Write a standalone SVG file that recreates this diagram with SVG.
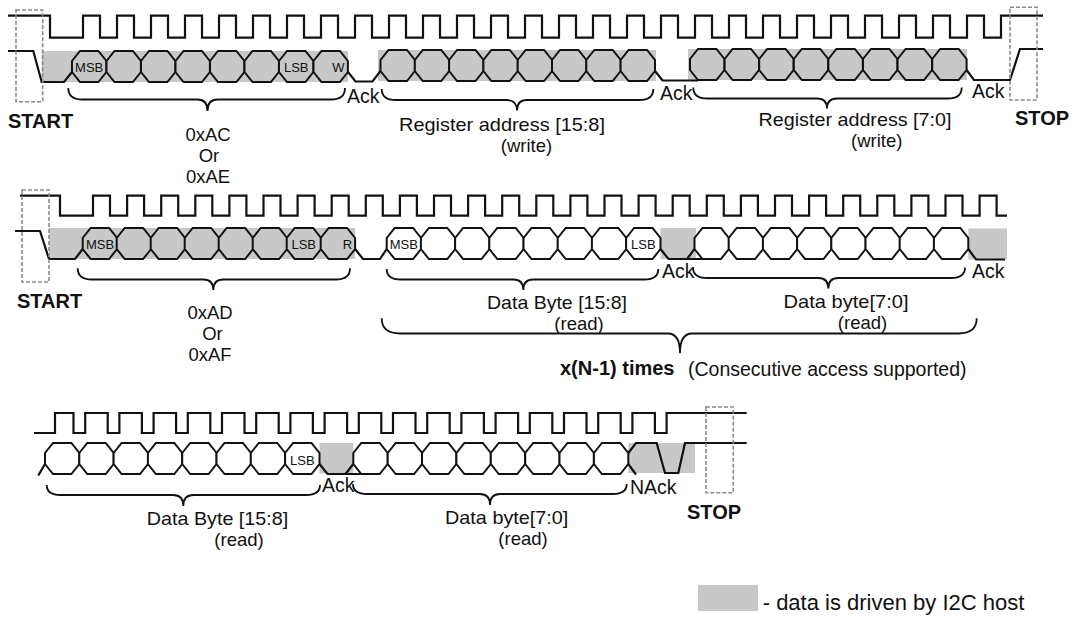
<svg xmlns="http://www.w3.org/2000/svg" xmlns:xlink="http://www.w3.org/1999/xlink" width="1076" height="622" viewBox="0 0 1076 622">
<style>
.w{fill:none;stroke:#111;stroke-width:2.2;stroke-linejoin:miter}
.og{fill:#c8c8c8;stroke:#111;stroke-width:2}
.ow{fill:#fff;stroke:#111;stroke-width:2}
.gr{fill:#c8c8c8}
.br{fill:none;stroke:#111;stroke-width:1.8}
.db{fill:none;stroke:#8a8a8a;stroke-width:1.6;stroke-dasharray:4 2}
.t{font-family:"Liberation Sans",Arial,sans-serif;font-size:19.5px;fill:#111}
.st{font-size:18.5px}
.b{font-weight:bold;font-size:20px}
.s{font-size:13px}
.m{text-anchor:middle}
</style>
<defs>
<path id="oc" d="M0,10 L8,0 H26.4 L34.4,10 V21 L26.4,31 H8 L0,21 Z"/>
</defs>
<rect width="1076" height="622" fill="#fff"/>

<g id="row1">
  <g id="r1-host">
    <rect class="gr" x="41.7" y="51" width="306.3" height="31"/>
    <rect class="gr" x="378" y="50" width="278" height="31"/>
    <rect class="gr" x="688" y="49" width="279" height="31"/>
  </g>
  <g id="r1-byte1">
    <use href="#oc" class="og" x="72" y="51"/><use href="#oc" class="og" x="106.5" y="51"/><use href="#oc" class="og" x="141" y="51"/><use href="#oc" class="og" x="175.5" y="51"/>
    <use href="#oc" class="og" x="210" y="51"/><use href="#oc" class="og" x="244.5" y="51"/><use href="#oc" class="og" x="279" y="51"/><use href="#oc" class="og" x="313.5" y="51"/>
    <text class="t s m" x="89.2" y="72">MSB</text><text class="t s m" x="296.2" y="72">LSB</text><text class="t s m" x="338.5" y="72">W</text>
  </g>
  <g id="r1-byte2">
    <use href="#oc" class="og" x="380.5" y="50"/><use href="#oc" class="og" x="414.8" y="50"/><use href="#oc" class="og" x="449.1" y="50"/><use href="#oc" class="og" x="483.4" y="50"/>
    <use href="#oc" class="og" x="517.7" y="50"/><use href="#oc" class="og" x="552" y="50"/><use href="#oc" class="og" x="586.3" y="50"/><use href="#oc" class="og" x="620.6" y="50"/>
  </g>
  <g id="r1-byte3">
    <use href="#oc" class="og" x="690" y="49"/><use href="#oc" class="og" x="724.6" y="49"/><use href="#oc" class="og" x="759.2" y="49"/><use href="#oc" class="og" x="793.8" y="49"/>
    <use href="#oc" class="og" x="828.4" y="49"/><use href="#oc" class="og" x="863" y="49"/><use href="#oc" class="og" x="897.6" y="49"/><use href="#oc" class="og" x="932.2" y="49"/>
  </g>
  <g id="r1-lines">
    <path class="w" d="M8,15.7 H50 V37.7 H83 v-22h17v22h17 v-22h17v22h17 v-22h17v22h17 v-22h17v22h17 v-22h17v22h17 v-22h17v22h17 v-22h17v22h17 v-22h17v22h17 v-22h17v22h17 v-22h17v22h17 v-22h17v22h17 v-22h17v22h17 v-22h17v22h17 v-22h17v22h17 v-22h17v22h17 v-22h17v22h17 v-22h17v22h17 v-22h17v22h17 v-22h17v22h17 v-22h17v22h17 v-22h17v22h17 v-22h17v22h17 v-22h17v22h17 v-22h17v22h17 v-22h17v22h17 v-22h17v22h17 v-22h17v22 H1001 V15.7 H1043"/>
    <path class="w" d="M8,51 H33.3 L41.7,82 H64 L72,72"/>
    <path class="w" d="M348,72 L355.5,81.5 H372.5 L380.5,71"/>
    <path class="w" d="M655,71 L662.5,80.5 H698"/>
    <path class="w" d="M966.6,70 L974,80 H1010 L1020,49 H1043"/>
  </g>
  <g id="r1-braces">
    <path class="br" d="M68.3,88 Q68.3,99.5 82.3,99.5 H197.5 Q207.5,99.5 207.5,111 Q207.5,99.5 217.5,99.5 H331 Q345,99.5 345,88"/>
    <path class="br" d="M381.7,89 Q381.7,100 395.7,100 H507 Q517,100 517,110.5 Q517,100 527,100 H639.3 Q653.3,100 653.3,89"/>
    <path class="br" d="M693.3,87.5 Q693.3,98.5 707.3,98.5 H817 Q827,98.5 827,108.5 Q827,98.5 837,98.5 H947.7 Q961.7,98.5 961.7,87.5"/>
  </g>
  <g id="r1-text">
    <text class="t b" x="8" y="128">START</text>
    <text class="t b" x="1015" y="125">STOP</text>
    <text class="t" x="347" y="103">Ack</text>
    <text class="t" x="660" y="100">Ack</text>
    <text class="t" x="972" y="98">Ack</text>
    <text class="t st m" x="208" y="140.5">0xAC</text>
    <text class="t st m" x="209" y="161.5">Or</text>
    <text class="t st m" x="208" y="182.5">0xAE</text>
    <text class="t st m" x="502" y="131" textLength="206" lengthAdjust="spacingAndGlyphs">Register address [15:8]</text>
    <text class="t st m" x="526.5" y="152">(write)</text>
    <text class="t st m" x="855" y="125.5" textLength="193" lengthAdjust="spacingAndGlyphs">Register address [7:0]</text>
    <text class="t st m" x="876.7" y="146.5">(write)</text>
  </g>
  <rect class="db" x="16" y="10" width="26.7" height="91.7"/>
  <rect class="db" x="1010" y="7.3" width="27" height="92.7"/>
</g>

<g id="row2">
  <g id="r2-host">
    <rect class="gr" x="49" y="228" width="306" height="31"/>
    <rect class="gr" x="660.5" y="228" width="35.5" height="31"/>
    <rect class="gr" x="968.3" y="228.5" width="38.7" height="31"/>
  </g>
  <g id="r2-byte1">
    <use href="#oc" class="og" x="82.7" y="228"/><use href="#oc" class="og" x="116.7" y="228"/><use href="#oc" class="og" x="150.7" y="228"/><use href="#oc" class="og" x="184.7" y="228"/>
    <use href="#oc" class="og" x="218.7" y="228"/><use href="#oc" class="og" x="252.7" y="228"/><use href="#oc" class="og" x="286.7" y="228"/><use href="#oc" class="og" x="320.7" y="228"/>
    <text class="t s m" x="100" y="248.5">MSB</text><text class="t s m" x="303.7" y="248.5">LSB</text><text class="t s m" x="347.5" y="248.5">R</text>
  </g>
  <g id="r2-byte2">
    <use href="#oc" class="ow" x="386.7" y="228"/><use href="#oc" class="ow" x="420.9" y="228"/><use href="#oc" class="ow" x="455.1" y="228"/><use href="#oc" class="ow" x="489.3" y="228"/>
    <use href="#oc" class="ow" x="523.5" y="228"/><use href="#oc" class="ow" x="557.7" y="228"/><use href="#oc" class="ow" x="591.9" y="228"/><use href="#oc" class="ow" x="626.1" y="228"/>
    <text class="t s m" x="403.8" y="248.5">MSB</text><text class="t s m" x="643.3" y="248.5">LSB</text>
  </g>
  <g id="r2-byte3">
    <use href="#oc" class="ow" x="694.5" y="228"/><use href="#oc" class="ow" x="728.7" y="228"/><use href="#oc" class="ow" x="762.9" y="228"/><use href="#oc" class="ow" x="797.1" y="228"/>
    <use href="#oc" class="ow" x="831.3" y="228"/><use href="#oc" class="ow" x="865.5" y="228"/><use href="#oc" class="ow" x="899.7" y="228"/><use href="#oc" class="ow" x="933.9" y="228"/>
  </g>
  <g id="r2-lines">
    <path class="w" d="M20,195.7 H60 V215.7 H93 v-20h17v20h17.1 v-20h17v20h17.1 v-20h17v20h17.1 v-20h17v20h17.1 v-20h17v20h17.1 v-20h17v20h17.1 v-20h17v20h17.1 v-20h17v20h17.1 v-20h17v20h17.1 v-20h17v20h17.1 v-20h17v20h17.1 v-20h17v20h17.1 v-20h17v20h17.1 v-20h17v20h17.1 v-20h17v20h17.1 v-20h17v20h17.1 v-20h17v20h17.1 v-20h17v20h17.1 v-20h17v20h17.1 v-20h17v20h17.1 v-20h17v20h17.1 v-20h17v20h17.1 v-20h17v20h17.1 v-20h17v20h17.1 v-20h17v20h17.1 v-20h17v20h17.1 v-20h17v20 H1007"/>
    <path class="w" d="M15,231 H40 L49,259 H75 L82.7,249"/>
    <path class="w" d="M355.1,249 L363,259 H380 L386.7,249"/>
    <path class="w" d="M660.5,249 L668.5,259 H702.5 M687,259 L694.5,249"/>
    <path class="w" d="M968.3,249 L976,259.5 H1005"/>
  </g>
  <g id="r2-braces">
    <path class="br" d="M77.7,268.3 Q77.7,279.5 91.7,279.5 H203.3 Q213.3,279.5 213.3,290 Q213.3,279.5 223.3,279.5 H336 Q350,279.5 350,268.3"/>
    <path class="br" d="M386.7,269 Q386.7,279.5 400.7,279.5 H513.3 Q523.3,279.5 523.3,290 Q523.3,279.5 533.3,279.5 H644.3 Q658.3,279.5 658.3,269"/>
    <path class="br" d="M693,267.5 Q693,278 707,278 H818.3 Q828.3,278 828.3,288.5 Q828.3,278 838.3,278 H951 Q965,278 965,267.5"/>
    <path class="br" d="M381.7,318.3 Q381.7,333.5 400,333.5 H668 Q680,333.5 680,353.3 Q680,333.5 692,333.5 H958.4 Q976.7,333.5 976.7,318.3"/>
  </g>
  <g id="r2-text">
    <text class="t b" x="17" y="308">START</text>
    <text class="t" x="662" y="278">Ack</text>
    <text class="t" x="972" y="278">Ack</text>
    <text class="t st m" x="210" y="319">0xAD</text>
    <text class="t st m" x="212.5" y="340">Or</text>
    <text class="t st m" x="210" y="361">0xAF</text>
    <text class="t st m" x="557" y="308.5" textLength="140" lengthAdjust="spacingAndGlyphs">Data Byte [15:8]</text>
    <text class="t st m" x="579" y="329.5">(read)</text>
    <text class="t st m" x="846" y="307.5" textLength="125" lengthAdjust="spacingAndGlyphs">Data byte[7:0]</text>
    <text class="t st m" x="862.5" y="328.5">(read)</text>
    <text class="t b" x="560" y="375">x(N-1) times</text>
    <text class="t" x="688" y="375.5">(Consecutive access supported)</text>
  </g>
  <rect class="db" x="22" y="190" width="27" height="92"/>
</g>

<g id="row3">
  <g id="r3-host">
    <rect class="gr" x="319.5" y="443" width="33.8" height="30.5"/>
    <rect class="gr" x="628.3" y="443" width="66.7" height="30"/>
  </g>
  <g id="r3-byte1">
    <use href="#oc" class="ow" x="45" y="443"/><use href="#oc" class="ow" x="79.3" y="443"/><use href="#oc" class="ow" x="113.6" y="443"/><use href="#oc" class="ow" x="147.9" y="443"/>
    <use href="#oc" class="ow" x="182.2" y="443"/><use href="#oc" class="ow" x="216.5" y="443"/><use href="#oc" class="ow" x="250.8" y="443"/><use href="#oc" class="ow" x="285.1" y="443"/>
    <text class="t s m" x="302.3" y="464.5">LSB</text>
  </g>
  <g id="r3-byte2">
    <use href="#oc" class="ow" x="353.3" y="443"/><use href="#oc" class="ow" x="387.7" y="443"/><use href="#oc" class="ow" x="422" y="443"/><use href="#oc" class="ow" x="456.4" y="443"/>
    <use href="#oc" class="ow" x="490.8" y="443"/><use href="#oc" class="ow" x="525.2" y="443"/><use href="#oc" class="ow" x="559.5" y="443"/><use href="#oc" class="ow" x="593.9" y="443"/>
  </g>
  <g id="r3-lines">
    <path class="w" d="M34,433 H55 V413 H73.5 V433 h11.7v-20h22.5v20 h11.7v-20h22.5v20 h11.7v-20h22.5v20 h11.7v-20h22.5v20 h11.7v-20h22.5v20 h11.7v-20h22.5v20 h11.7v-20h22.5v20 h11.7v-20h22.5v20 h11.7v-20h22.5v20 h11.7v-20h22.5v20 h11.7v-20h22.5v20 h11.7v-20h22.5v20 h11.7v-20h22.5v20 h11.7v-20h22.5v20 h11.7v-20h22.5v20 h11.7v-20h22.5v20 h11.7v-20h22.5v20 h11.7v-20 H746.7"/>
    <path class="w" d="M38.3,475.5 L45,464"/>
    <path class="w" d="M319.5,464 L327.5,474 H361.3 M345.5,474 L353.3,464"/>
    <path class="w" d="M628.3,453 L636,443 H656.7 L665,473 H678.3 L685,443 H746.7 M628.3,464 L636,474.5"/>
  </g>
  <g id="r3-braces">
    <path class="br" d="M46.7,485 Q46.7,495 60.7,495 H173.3 Q183.3,495 183.3,506 Q183.3,495 193.3,495 H306 Q320,495 320,485"/>
    <path class="br" d="M353,484 Q353,494 367,494 H480 Q490,494 490,505 Q490,494 500,494 H612.7 Q626.7,494 626.7,484"/>
  </g>
  <g id="r3-text">
    <text class="t" x="322" y="491.5">Ack</text>
    <text class="t" x="630" y="494">NAck</text>
    <text class="t b" x="687" y="519">STOP</text>
    <text class="t st m" x="217.5" y="525" textLength="141.5" lengthAdjust="spacingAndGlyphs">Data Byte [15:8]</text>
    <text class="t st m" x="239" y="546">(read)</text>
    <text class="t st m" x="506.7" y="523.5" textLength="123.3" lengthAdjust="spacingAndGlyphs">Data byte[7:0]</text>
    <text class="t st m" x="523" y="544.5">(read)</text>
  </g>
  <rect class="db" x="706" y="407" width="27.3" height="85.7"/>
</g>

<g id="legend">
  <rect class="gr" x="698" y="585" width="60" height="26"/>
  <text class="t" x="762.7" y="610" style="font-size:22px">- data is driven by I2C host</text>
</g>
</svg>
